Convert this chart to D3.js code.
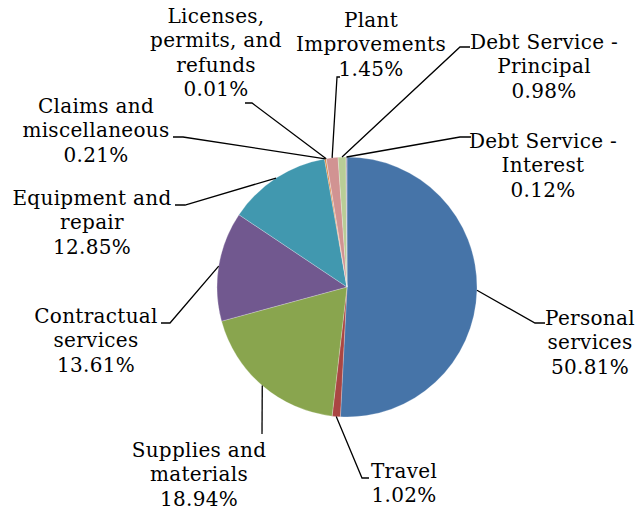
<!DOCTYPE html>
<html lang="en">
<head>
  <meta charset="UTF-8" />
  <title>Expenditures pie</title>
  <script src="https://cdn.jsdelivr.net/npm/d3@7"></script>
  <style>
    html, body { margin: 0; padding: 0; background: #fff; }
    svg { display: block; }
    text { font-family: "DejaVu Serif", serif; font-size: 20px; letter-spacing: 0.3px; fill: #000; }
  </style>
</head>
<body>
  <script>
    // Data
    const categories = [
      "Personal services", "Travel", "Supplies and materials", "Contractual services",
      "Equipment and repair", "Claims and miscellaneous", "Licenses, permits, and refunds",
      "Plant Improvements", "Debt Service - Principal", "Debt Service - Interest"
    ];
    const values = [50.81, 1.02, 18.94, 13.61, 12.85, 0.21, 0.01, 1.45, 0.98, 0.12];
    const labelLines = [
      ["Personal", "services"],
      ["Travel"],
      ["Supplies and", "materials"],
      ["Contractual", "services"],
      ["Equipment and", "repair"],
      ["Claims and", "miscellaneous"],
      ["Licenses,", "permits, and", "refunds"],
      ["Plant", "Improvements"],
      ["Debt Service -", "Principal"],
      ["Debt Service -", "Interest"]
    ];
    const colors = ["#4674A8", "#AA4643", "#89A54E", "#71588F", "#4198AF",
                    "#DB843D", "#93A9CF", "#D19392", "#B9CD96", "#A99BBD"];

    // Label layout: text centre x, first baseline, leader elbow and end
    const labelLayout = [
      { x: 590, y: 325, elbow: [535, 323], end: [545, 323] },
      { x: 404, y: 478, elbow: [362, 478], end: [369, 478] },
      { x: 199, y: 457, elbow: [262, 434], end: [262, 434] },
      { x: 96,  y: 323, elbow: [170, 323], end: [161, 323] },
      { x: 92,  y: 205, elbow: [185, 205], end: [175, 205] },
      { x: 96,  y: 113, elbow: [183, 137], end: [173, 137] },
      { x: 216, y: 23,  elbow: [252, 103], end: [245, 103] },
      { x: 371, y: 27,  elbow: [337, 77],  end: [340, 77] },
      { x: 544, y: 49,  elbow: [460, 47],  end: [470, 47] },
      { x: 543, y: 148, elbow: [460, 137], end: [471, 137] }
    ];

    const width = 636, height = 510;
    const cx = 347, cy = 287, radius = 130;
    const lineGap = 24.3;

    const svg = d3.select("body").append("svg")
      .attr("width", width)
      .attr("height", height);

    const pie = d3.pie().sort(null).value(d => d);
    const arcs = pie(values);
    const arc = d3.arc().innerRadius(0).outerRadius(radius);

    const g = svg.append("g").attr("transform", `translate(${cx},${cy})`);

    g.selectAll("path.slice")
      .data(arcs)
      .join("path")
        .attr("class", "slice")
        .attr("d", arc)
        .attr("fill", (d, i) => colors[i])
        .attr("stroke", "#fff")
        .attr("stroke-width", 0.4)
        .attr("stroke-opacity", 0.6);

    // Leader lines from slice edge to label
    svg.selectAll("polyline.leader")
      .data(arcs)
      .join("polyline")
        .attr("class", "leader")
        .attr("fill", "none")
        .attr("stroke", "#000")
        .attr("stroke-width", 1.3)
        .attr("points", (d, i) => {
          const a = (d.startAngle + d.endAngle) / 2;
          const p = [cx + Math.sin(a) * radius, cy - Math.cos(a) * radius];
          const L = labelLayout[i];
          return [p, L.elbow, L.end].map(q => q.join(",")).join(" ");
        });

    // Labels
    const fmt = v => v.toFixed(2) + "%";
    svg.selectAll("text.label")
      .data(arcs)
      .join("text")
        .attr("class", "label")
        .attr("text-anchor", "middle")
        .each(function(d, i) {
          const L = labelLayout[i];
          const lines = labelLines[i].concat([fmt(values[i])]);
          d3.select(this).selectAll("tspan")
            .data(lines)
            .join("tspan")
              .attr("x", L.x)
              .attr("y", (t, j) => L.y + j * lineGap)
              .text(t => t);
        });
  </script>
</body>
</html>
